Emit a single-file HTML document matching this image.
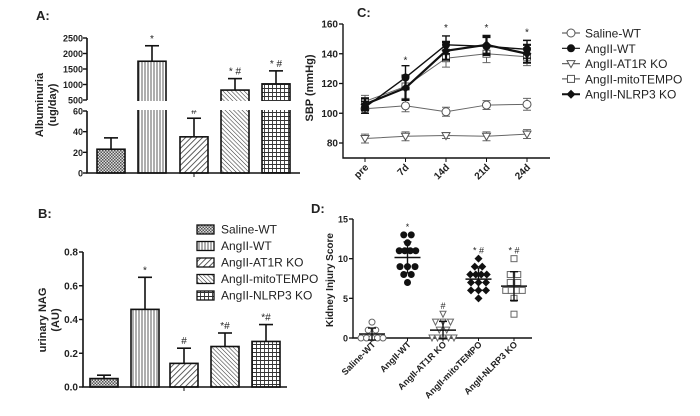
<!DOCTYPE html>
<html><head><meta charset="utf-8"><style>
html,body{margin:0;padding:0;background:#fff}
svg{display:block;font-family:"Liberation Sans",Arial,sans-serif}
text{fill:#222}
</style></head><body>
<svg id="s" width="700" height="416" viewBox="0 0 700 416">
<defs>
<pattern id="p0" width="3" height="3" patternUnits="userSpaceOnUse"><rect width="3" height="3" fill="#ddd"/><rect width="1.5" height="1.5" fill="#555"/><rect x="1.5" y="1.5" width="1.5" height="1.5" fill="#555"/></pattern>
<pattern id="p1" width="3" height="4" patternUnits="userSpaceOnUse"><rect width="3" height="4" fill="#fff"/><line x1="1" y1="0" x2="1" y2="4" stroke="#333" stroke-width="0.8"/></pattern>
<pattern id="p2" width="4" height="4" patternUnits="userSpaceOnUse" patternTransform="rotate(45)"><rect width="4" height="4" fill="#fff"/><line x1="0" y1="0" x2="0" y2="4" stroke="#333" stroke-width="1.6"/></pattern>
<pattern id="p3" width="3" height="3" patternUnits="userSpaceOnUse" patternTransform="rotate(-45)"><rect width="3" height="3" fill="#fff"/><line x1="0" y1="0" x2="0" y2="3" stroke="#333" stroke-width="1.1"/></pattern>
<pattern id="p4" width="4" height="4" patternUnits="userSpaceOnUse"><rect width="4" height="4" fill="#fff"/><path d="M0.5 0V4M0 0.5H4" stroke="#333" stroke-width="0.9"/></pattern>
</defs>
<g id="gA"></g>
<g id="gB"></g>
<g id="gC"></g>
<g id="gD"></g>
</svg>
<script>
const groups=["Saline-WT","AngII-WT","AngII-AT1R KO","AngII-mitoTEMPO","AngII-NLRP3 KO"];
const albMean=[23,1750,35,820,1020];
const albErr=[11,500,18,370,420];
const albMarks=["","*","#","* #","* #"];
const albTicksLow=[0,20,40,60];
const albTicksHigh=[500,1000,1500,2000,2500];
const nagMean=[0.05,0.46,0.14,0.24,0.27];
const nagErr=[0.02,0.19,0.09,0.08,0.10];
const nagMarks=["","*","#","*#","*#"];
const nagTicks=[0,0.2,0.4,0.6,0.8];
const sbpDays=["pre","7d","14d","21d","24d"];
const sbpSaline=[103,105,101,105.5,106];
const sbpAngWT=[104,124,146,145,143];
const sbpAT1R=[83,84.5,85,84.5,86];
const sbpMito=[108,118,137,140,138];
const sbpNLRP3=[106,117,142,146,140];
const sbpErrSaline=[3,4,3,3,4];
const sbpErrAng=[4,8,6,6,6];
const sbpErrAT1R=[3,3,2,3,3];
const sbpMarks=["","*","*","*","*"];
const sbpTicks=[80,100,120,140,160];
const kisSaline=[0,0,0,0,0,1,1,2];
const kisAngWT=[13,13,12,11,11,11,11,9,9,9,8,8,7];
const kisAT1R=[3,2,2,2,1,1,0,0,0,0,0];
const kisMito=[10,9,9,8,8,8,8,7,7,7,6,6,6,5];
const kisNLRP3=[10,8,8,7,7,6,6,6,6,5,3];
const kisMarks=["","*","#","* #","* #"];
const kisTicks=[0,5,10,15];
const NS="http://www.w3.org/2000/svg";
function el(p,t,a,txt){const e=document.createElementNS(NS,t);for(const k in a)e.setAttribute(k,a[k]);if(txt!==undefined)e.textContent=txt;p.appendChild(e);return e;}
const pats=["url(#p0)","url(#p1)","url(#p2)","url(#p3)","url(#p4)"];
const mean=a=>a.reduce((s,v)=>s+v,0)/a.length;
const sd=a=>{const m=mean(a);return Math.sqrt(a.reduce((s,v)=>s+(v-m)*(v-m),0)/(a.length-1));};

// Panel A
(function(){
const g=document.getElementById('gA');
const yL=v=>173-(v/60)*62, yH=v=>100-(v-500)/2000*62;
const y=v=>v<=60?yL(v):yH(v);
const bx=[97,138,180,221,262],bw=28;
let t=el(g,'text',{x:36,y:20,'font-size':13,'font-weight':'bold'},'A:');
t=el(g,'text',{transform:'translate(43,105) rotate(-90)','text-anchor':'middle','font-size':11,'font-weight':'bold'},'Albuminuria');
t=el(g,'text',{transform:'translate(56,105) rotate(-90)','text-anchor':'middle','font-size':11,'font-weight':'bold'},'(ug/day)');
albMean.forEach((m,i)=>{
 const yt=y(m);
 let e=el(g,'line',{x1:bx[i]+bw/2,x2:bx[i]+bw/2,y1:yt,y2:y(m+albErr[i]),stroke:'#111','stroke-width':1.6});
 el(g,'line',{x1:bx[i]+bw/2-7,x2:bx[i]+bw/2+7,y1:y(m+albErr[i]),y2:y(m+albErr[i]),stroke:'#111','stroke-width':1.6});
 e=el(g,'rect',{x:bx[i],y:yt,width:bw,height:173-yt,fill:pats[i],stroke:'#111','stroke-width':1.6});
 e=el(g,'text',{x:bx[i]+bw/2,y:y(m+albErr[i])-4,'text-anchor':'middle','font-size':10},albMarks[i]);
});
el(g,'rect',{x:86,y:101,width:220,height:9,fill:'#fff'});
let e=el(g,'path',{d:'M87 38V100M87 111V173H300',stroke:'#111','stroke-width':1.6,fill:'none'});
el(g,'line',{x1:194,x2:194,y1:173,y2:177,stroke:'#111'});
albTicksHigh.forEach(v=>{el(g,'line',{x1:83,x2:87,y1:yH(v),y2:yH(v),stroke:'#111','stroke-width':1.4});const e=el(g,'text',{x:83,y:yH(v)+3.5,'text-anchor':'end','font-size':9,'font-weight':'bold'},v);});
albTicksLow.forEach(v=>{el(g,'line',{x1:83,x2:87,y1:yL(v),y2:yL(v),stroke:'#111','stroke-width':1.4});const e=el(g,'text',{x:83,y:yL(v)+3.5,'text-anchor':'end','font-size':9,'font-weight':'bold'},v);});
})();

// Panel B
(function(){
const g=document.getElementById('gB');
const y=v=>387-v/0.8*135;
const bx=[90,131,170,211,252],bw=28;
let t=el(g,'text',{x:38,y:218,'font-size':13,'font-weight':'bold'},'B:');
t=el(g,'text',{transform:'translate(46,320) rotate(-90)','text-anchor':'middle','font-size':11,'font-weight':'bold'},'urinary NAG');
t=el(g,'text',{transform:'translate(59,320) rotate(-90)','text-anchor':'middle','font-size':11,'font-weight':'bold'},'(AU)');
nagMean.forEach((m,i)=>{
 const yt=y(m),ye=y(m+nagErr[i]);
 el(g,'line',{x1:bx[i]+bw/2,x2:bx[i]+bw/2,y1:yt,y2:ye,stroke:'#111','stroke-width':1.6});
 el(g,'line',{x1:bx[i]+bw/2-7,x2:bx[i]+bw/2+7,y1:ye,y2:ye,stroke:'#111','stroke-width':1.6});
 let e=el(g,'rect',{x:bx[i],y:yt,width:bw,height:387-yt,fill:pats[i],stroke:'#111','stroke-width':1.6});
 e=el(g,'text',{x:bx[i]+bw/2,y:ye-4,'text-anchor':'middle','font-size':10},nagMarks[i]);
});
el(g,'path',{d:'M83 252V387H287',stroke:'#111','stroke-width':1.6,fill:'none'});
el(g,'line',{x1:184,x2:184,y1:387,y2:391,stroke:'#111'});
nagTicks.forEach(v=>{el(g,'line',{x1:79,x2:83,y1:y(v),y2:y(v),stroke:'#111','stroke-width':1.4});const e=el(g,'text',{x:78,y:y(v)+3.5,'text-anchor':'end','font-size':10,'font-weight':'bold'},v.toFixed(1));});
groups.forEach((n,i)=>{const yy=229+i*16.5;let e=el(g,'rect',{x:197,y:yy-4,width:17,height:9,fill:pats[i],stroke:'#111','stroke-width':1.3});
 e=el(g,'text',{x:221,y:yy+4.5,'font-size':12},n);});
})();

// Panel C
(function(){
const g=document.getElementById('gC');
const y=v=>143-(v-80)*1.4875;
const x=i=>365+i*40.5;
let t=el(g,'text',{x:357,y:17,'font-size':13,'font-weight':'bold'},'C:');
t=el(g,'text',{transform:'translate(313,88) rotate(-90)','text-anchor':'middle','font-size':11,'font-weight':'bold'},'SBP (mmHg)');
el(g,'path',{d:'M343 24V158H550',stroke:'#111','stroke-width':1.4,fill:'none'});
sbpTicks.forEach(v=>{el(g,'line',{x1:339,x2:343,y1:y(v),y2:y(v),stroke:'#111','stroke-width':1.3});const e=el(g,'text',{x:338,y:y(v)+3.5,'text-anchor':'end','font-size':10,'font-weight':'bold'},v);});
sbpDays.forEach((d,i)=>{el(g,'line',{x1:x(i),x2:x(i),y1:158,y2:162,stroke:'#111'});const e=el(g,'text',{transform:`translate(${x(i)+4},168) rotate(-45)`,'text-anchor':'end','font-size':10,'font-weight':'bold'},d);});
const series=[[sbpSaline,sbpErrSaline,'oc','#666',1],[sbpAT1R,sbpErrAT1R,'tri','#666',1],[sbpMito,sbpErrAng,'sq','#666',1],[sbpAngWT,sbpErrAng,'fc','#111',1.4],[sbpNLRP3,sbpErrAng,'dm','#111',2.2]];
function mark(g,t,cx,cy){
 if(t==='oc')return el(g,'circle',{cx,cy,r:4,fill:'#fff',stroke:'#555','stroke-width':1});
 if(t==='fc')return el(g,'circle',{cx,cy,r:4,fill:'#111'});
 if(t==='tri')return el(g,'path',{d:`M${cx-4} ${cy-3}H${cx+4}L${cx} ${cy+4}Z`,fill:'#fff',stroke:'#555'});
 if(t==='sq')return el(g,'rect',{x:cx-3.5,y:cy-3.5,width:7,height:7,fill:'#fff',stroke:'#555'});
 return el(g,'path',{d:`M${cx} ${cy-4.5}L${cx+4.5} ${cy}L${cx} ${cy+4.5}L${cx-4.5} ${cy}Z`,fill:'#111'});
}
series.forEach((s,k)=>{
 const [vals,err,t,c,w]=s;
 let e=el(g,'polyline',{points:vals.map((v,i)=>x(i)+','+y(v)).join(' '),fill:'none',stroke:c,'stroke-width':w});
 vals.forEach((v,i)=>{el(g,'path',{d:`M${x(i)} ${y(v-err[i])}V${y(v+err[i])}M${x(i)-4} ${y(v-err[i])}h8M${x(i)-4} ${y(v+err[i])}h8`,stroke:c,'stroke-width':w,fill:'none'});
 const m=mark(g,t,x(i),y(v));});
});
sbpMarks.forEach((m,i)=>{const e=el(g,'text',{x:x(i),y:y(Math.max(sbpAngWT[i],sbpNLRP3[i])+8)-2,'text-anchor':'middle','font-size':10},m);});
const lt=['oc','fc','tri','sq','dm'];
groups.forEach((n,i)=>{const yy=33+i*15.3;const c=(i===1||i===4)?'#111':'#666';el(g,'line',{x1:562,x2:580,y1:yy,y2:yy,stroke:c,'stroke-width':i===4?2:1.2});const m=mark(g,lt[i],571,yy);
 const e=el(g,'text',{x:585,y:yy+4.5,'font-size':12},n);});
})();

// Panel D
(function(){
const g=document.getElementById('gD');
const y=v=>338-v/15*119;
const x=i=>372+i*35.5;
let t=el(g,'text',{x:311,y:213,'font-size':13,'font-weight':'bold'},'D:');
t=el(g,'text',{transform:'translate(333,280) rotate(-90)','text-anchor':'middle','font-size':10,'font-weight':'bold'},'Kidney Injury Score');
el(g,'path',{d:'M353 219V338H532',stroke:'#111','stroke-width':1.4,fill:'none'});
kisTicks.forEach(v=>{el(g,'line',{x1:349,x2:353,y1:y(v),y2:y(v),stroke:'#111','stroke-width':1.3});const e=el(g,'text',{x:348,y:y(v)+3.5,'text-anchor':'end','font-size':9,'font-weight':'bold'},v);});
groups.forEach((n,i)=>{el(g,'line',{x1:x(i),x2:x(i),y1:338,y2:341,stroke:'#111'});const e=el(g,'text',{transform:`translate(${x(i)+4},345) rotate(-45)`,'text-anchor':'end','font-size':9,'font-weight':'bold'},n);});
const data=[kisSaline,kisAngWT,kisAT1R,kisMito,kisNLRP3];
const types=['oc','fc','tri','dm','sq'];
data.forEach((arr,i)=>{
 const counts={};arr.forEach(v=>counts[v]=(counts[v]||0)+1);const seen={};
 arr.forEach(v=>{const n=counts[v];const k=seen[v]=(seen[v]||0);seen[v]++;const sp=n>3?5.5:7.5;const cx=x(i)+(k-(n-1)/2)*sp;const cy=y(v);let m;
  const tt=types[i];
  if(tt==='oc')m=el(g,'circle',{cx,cy,r:3,fill:'#fff',stroke:'#666'});
  else if(tt==='fc')m=el(g,'circle',{cx,cy,r:3.5,fill:'#111'});
  else if(tt==='tri')m=el(g,'path',{d:`M${cx-3} ${cy-3}H${cx+3}L${cx} ${cy+3}Z`,fill:'#fff',stroke:'#666'});
  else if(tt==='dm')m=el(g,'path',{d:`M${cx} ${cy-4}L${cx+4} ${cy}L${cx} ${cy+4}L${cx-4} ${cy}Z`,fill:'#111'});
  else m=el(g,'rect',{x:cx-3,y:cy-3,width:6,height:6,fill:'#fff',stroke:'#666'});
  });
 const mu=mean(arr),s=sd(arr);
 let e=el(g,'line',{x1:x(i)-13,x2:x(i)+13,y1:y(mu),y2:y(mu),stroke:'#111','stroke-width':1.5});
 el(g,'path',{d:`M${x(i)} ${y(mu-s)}V${y(mu+s)}M${x(i)-4} ${y(mu-s)}h8M${x(i)-4} ${y(mu+s)}h8`,stroke:'#111','stroke-width':1.4,fill:'none'});
 e=el(g,'text',{x:x(i),y:y(Math.max(...arr))-5,'text-anchor':'middle','font-size':9},kisMarks[i]);
});
})();
</script>
</body></html>
